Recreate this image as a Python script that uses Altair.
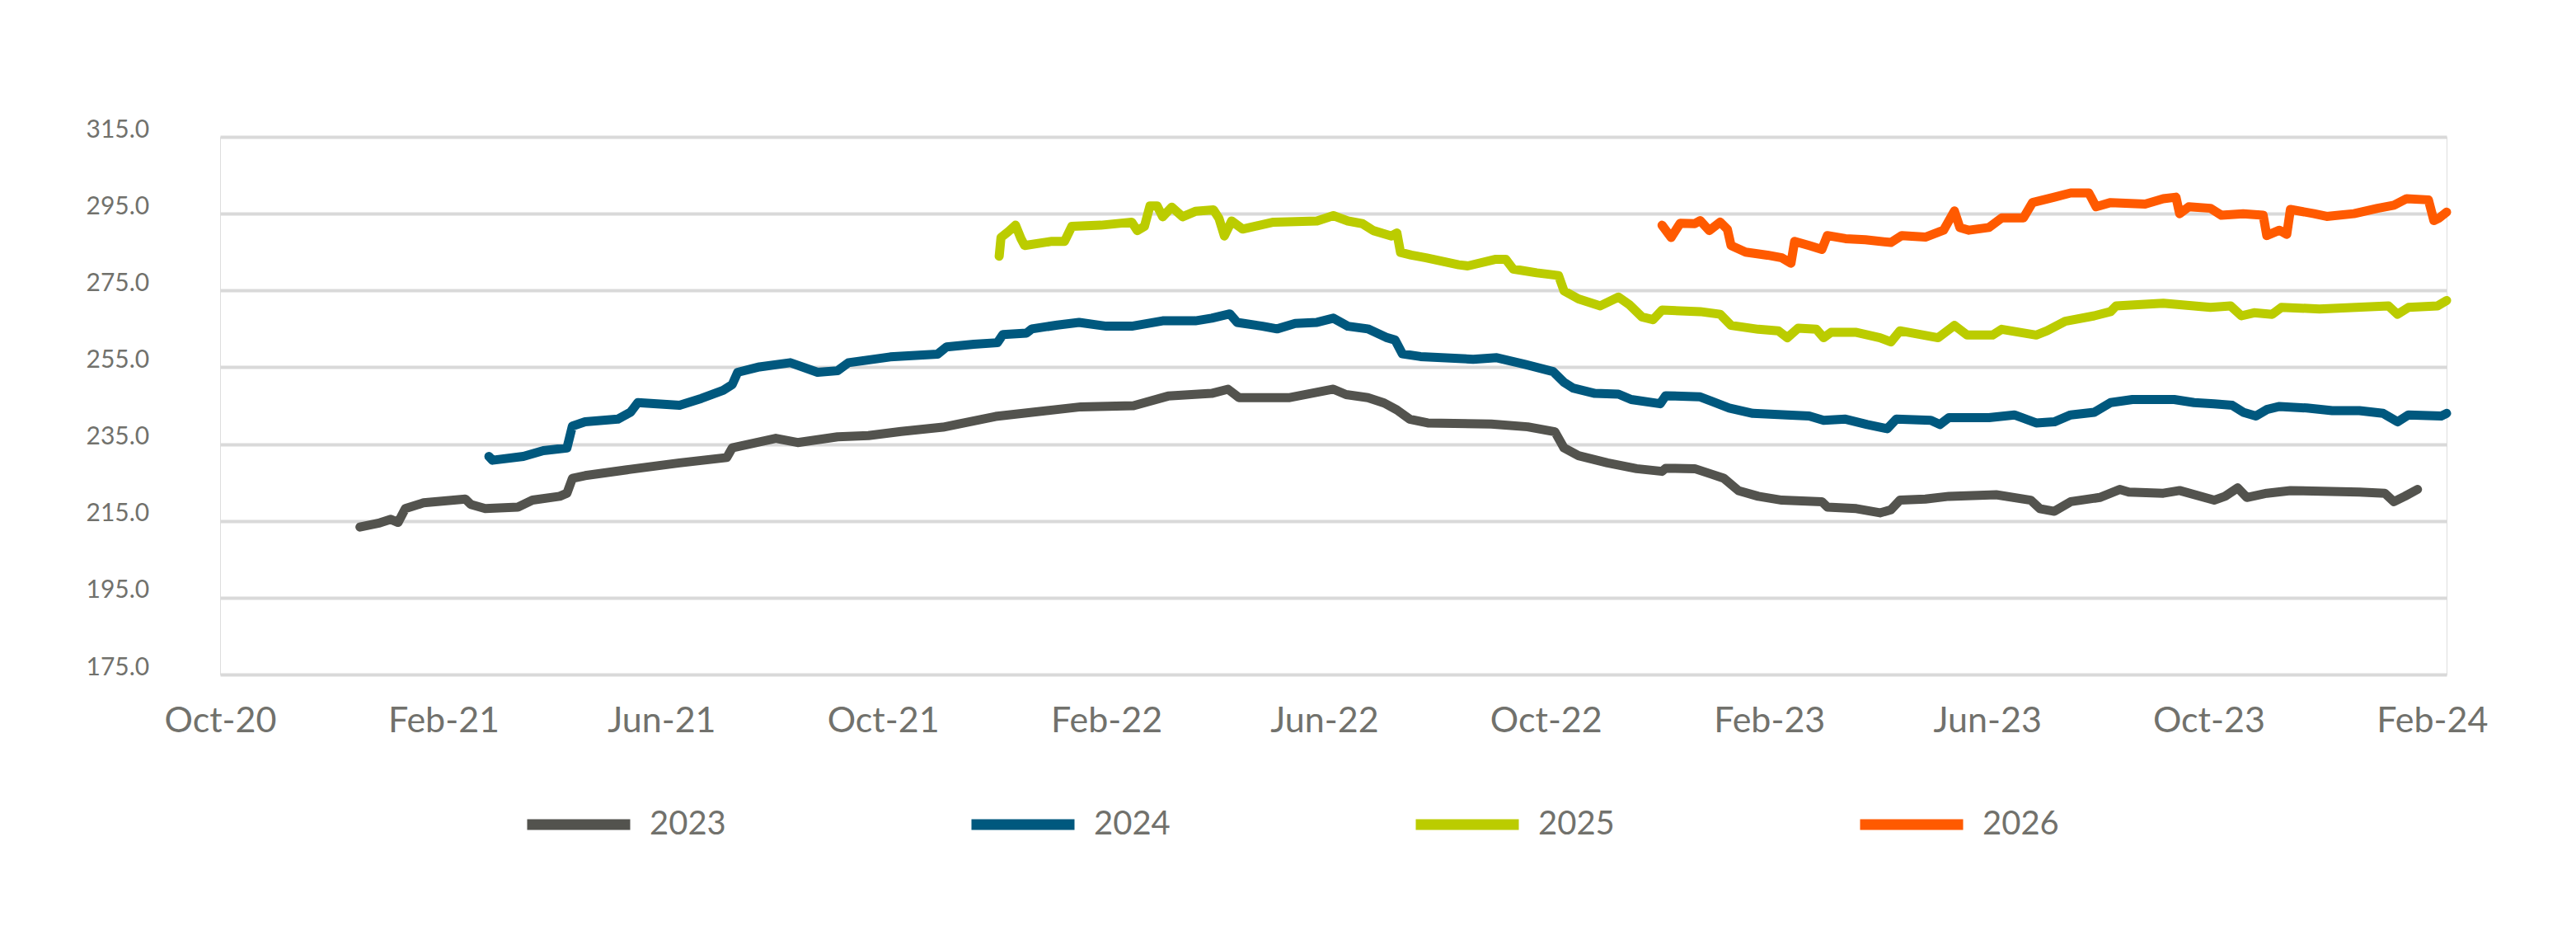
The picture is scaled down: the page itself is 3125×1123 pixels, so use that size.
import altair as alt
import pandas as pd

series_names = ["2023", "2024", "2025", "2026"]
series_colors = ["#53534e", "#00587e", "#bbcc00", "#ff5a00"]

dates_2023 = ["2020-12-17", "2020-12-28", "2021-01-03", "2021-01-07", "2021-01-11", "2021-01-21",
              "2021-02-13", "2021-02-16", "2021-02-24", "2021-03-14", "2021-03-22", "2021-04-06",
              "2021-04-10", "2021-04-13", "2021-04-20", "2021-05-13", "2021-06-11", "2021-07-07",
              "2021-07-10", "2021-08-03", "2021-08-15", "2021-09-06", "2021-09-23", "2021-10-11",
              "2021-11-03", "2021-12-02", "2022-01-18", "2022-02-16", "2022-03-07", "2022-03-31",
              "2022-04-09", "2022-04-15", "2022-05-13", "2022-06-06", "2022-06-13", "2022-06-25",
              "2022-07-04", "2022-07-11", "2022-07-18", "2022-07-28", "2022-09-01", "2022-09-21",
              "2022-10-06", "2022-10-11", "2022-10-19", "2022-11-04", "2022-11-20", "2022-12-04",
              "2022-12-06", "2022-12-22", "2022-12-31", "2023-01-07", "2023-01-15", "2023-01-26",
              "2023-02-08", "2023-03-02", "2023-03-05", "2023-03-21", "2023-04-03", "2023-04-09",
              "2023-04-14", "2023-04-28", "2023-05-11", "2023-06-06", "2023-06-25", "2023-06-30",
              "2023-07-08", "2023-07-17", "2023-08-02", "2023-08-13", "2023-08-18", "2023-09-06",
              "2023-09-15", "2023-10-04", "2023-10-10", "2023-10-17", "2023-10-22", "2023-11-02",
              "2023-11-15", "2023-12-23", "2024-01-06", "2024-01-11", "2024-01-17", "2024-01-24"]
values_2023 = [213.4, 214.5, 215.4, 214.6, 218.2, 219.7,
               220.7, 219.3, 218.2, 218.6, 220.4, 221.4,
               222.2, 226.1, 226.8, 228.3, 230.1, 231.5,
               234.0, 236.5, 235.4, 236.9, 237.2, 238.3,
               239.4, 242.2, 244.7, 245.0, 247.5, 248.2,
               249.3, 247.1, 247.1, 249.3, 247.9, 247.1,
               245.7, 243.9, 241.5, 240.5, 240.2, 239.5,
               238.2, 234.0, 232.0, 230.1, 228.6, 227.9,
               228.7, 228.6, 227.2, 226.1, 222.9, 221.4,
               220.4, 220.0, 218.6, 218.2, 217.1, 217.9,
               220.4, 220.7, 221.4, 221.8, 220.4, 218.2,
               217.5, 220.0, 221.1, 223.2, 222.5, 222.2,
               222.9, 220.4, 221.4, 223.6, 221.1, 222.2,
               222.9, 222.5, 222.2, 220.0, 221.4, 223.2]

dates_2024 = ["2021-02-26", "2021-02-28", "2021-03-17", "2021-03-28", "2021-04-10", "2021-04-13",
              "2021-04-20", "2021-05-08", "2021-05-15", "2021-05-19", "2021-06-11", "2021-06-23",
              "2021-07-05", "2021-07-10", "2021-07-13", "2021-07-25", "2021-08-11", "2021-08-26",
              "2021-09-06", "2021-09-12", "2021-10-05", "2021-10-31", "2021-11-05", "2021-11-20",
              "2021-12-03", "2021-12-06", "2021-12-19", "2021-12-22", "2022-01-05", "2022-01-17",
              "2022-02-01", "2022-02-15", "2022-03-04", "2022-03-22", "2022-03-31", "2022-04-10",
              "2022-04-14", "2022-04-28", "2022-05-06", "2022-05-16", "2022-05-28", "2022-06-06",
              "2022-06-14", "2022-06-25", "2022-07-05", "2022-07-10", "2022-07-14", "2022-07-24",
              "2022-08-22", "2022-09-04", "2022-09-20", "2022-10-05", "2022-10-11", "2022-10-16",
              "2022-10-28", "2022-11-10", "2022-11-17", "2022-12-03", "2022-12-06", "2022-12-25",
              "2022-12-31", "2023-01-10", "2023-01-23", "2023-02-23", "2023-03-03", "2023-03-15",
              "2023-03-27", "2023-04-07", "2023-04-12", "2023-05-01", "2023-05-06", "2023-05-11",
              "2023-06-02", "2023-06-16", "2023-06-28", "2023-07-08", "2023-07-17", "2023-07-30",
              "2023-08-08", "2023-08-20", "2023-09-12", "2023-09-23", "2023-10-04", "2023-10-14",
              "2023-10-20", "2023-10-27", "2023-11-02", "2023-11-09", "2023-11-24", "2023-12-08",
              "2023-12-23", "2024-01-05", "2024-01-13", "2024-01-19", "2024-02-06", "2024-02-09"]
values_2024 = [231.8, 230.8, 231.8, 233.3, 234.0, 239.7,
               240.8, 241.5, 243.3, 245.8, 245.1, 246.9,
               249.0, 250.5, 253.7, 255.1, 256.2, 253.7,
               254.1, 256.2, 257.7, 258.4, 260.3, 261.0,
               261.4, 263.5, 263.9, 265.0, 266.0, 266.7,
               265.7, 265.7, 267.1, 267.1, 267.8, 268.9,
               266.7, 265.7, 265.0, 266.4, 266.7, 267.8,
               265.7, 265.0, 262.8, 262.1, 258.5, 257.8,
               257.1, 257.5, 255.7, 253.9, 251.1, 249.6,
               248.2, 248.0, 246.6, 245.5, 247.6, 247.3,
               246.2, 244.4, 243.0, 242.3, 241.2, 241.5,
               240.1, 239.0, 241.5, 241.2, 240.1, 241.9,
               241.9, 242.6, 240.5, 240.8, 242.6, 243.3,
               245.8, 246.6, 246.6, 245.8, 245.5, 245.1,
               243.3, 242.3, 244.0, 244.8, 244.4, 243.7,
               243.7, 243.0, 240.8, 242.6, 242.3, 243.0]

dates_2025 = ["2021-12-04", "2021-12-05", "2021-12-09", "2021-12-13", "2021-12-16", "2021-12-18",
              "2022-01-02", "2022-01-09", "2022-01-13", "2022-01-29", "2022-02-15", "2022-02-18",
              "2022-02-22", "2022-02-25", "2022-03-01", "2022-03-04", "2022-03-09", "2022-03-15",
              "2022-03-22", "2022-04-01", "2022-04-04", "2022-04-07", "2022-04-11", "2022-04-17",
              "2022-05-04", "2022-05-28", "2022-06-06", "2022-06-14", "2022-06-22", "2022-06-28",
              "2022-07-08", "2022-07-11", "2022-07-13", "2022-07-19", "2022-07-27", "2022-08-14",
              "2022-08-19", "2022-09-03", "2022-09-09", "2022-09-13", "2022-09-26", "2022-10-08",
              "2022-10-11", "2022-10-19", "2022-10-31", "2022-11-10", "2022-11-16", "2022-11-23",
              "2022-11-29", "2022-12-04", "2022-12-25", "2023-01-05", "2023-01-11", "2023-01-26",
              "2023-02-06", "2023-02-11", "2023-02-17", "2023-02-27", "2023-03-03", "2023-03-07",
              "2023-03-21", "2023-04-03", "2023-04-09", "2023-04-14", "2023-05-05", "2023-05-14",
              "2023-05-21", "2023-06-04", "2023-06-09", "2023-06-28", "2023-07-04", "2023-07-14",
              "2023-07-30", "2023-08-08", "2023-08-11", "2023-09-06", "2023-10-02", "2023-10-13",
              "2023-10-19", "2023-10-26", "2023-11-05", "2023-11-10", "2023-12-01", "2024-01-08",
              "2024-01-13", "2024-01-19", "2024-02-04", "2024-02-09"]
values_2025 = [283.9, 288.8, 290.3, 292.0, 288.5, 286.7,
               287.8, 287.8, 291.7, 292.0, 292.8, 290.6,
               291.7, 297.0, 297.0, 294.2, 296.7, 294.2,
               295.6, 296.0, 293.8, 289.2, 293.1, 291.0,
               292.8, 293.1, 294.5, 293.1, 292.4, 290.6,
               289.2, 290.0, 284.9, 284.2, 283.5, 281.7,
               281.4, 283.1, 283.1, 280.6, 279.6, 278.9,
               274.9, 272.8, 271.0, 273.3, 271.3, 268.1,
               267.4, 269.9, 269.5, 268.8, 265.9, 264.9,
               264.5, 262.7, 265.2, 264.9, 262.7, 264.1,
               264.1, 262.7, 261.6, 264.5, 262.7, 265.9,
               263.4, 263.4, 264.9, 263.4, 264.5, 267.0,
               268.4, 269.5, 271.0, 271.7, 270.6, 271.0,
               268.4, 269.2, 268.8, 270.6, 270.2, 271.0,
               268.8, 270.6, 271.0, 272.4]

dates_2026 = ["2022-12-04", "2022-12-09", "2022-12-14", "2022-12-22", "2022-12-25", "2022-12-30",
              "2023-01-05", "2023-01-09", "2023-01-11", "2023-01-19", "2023-01-31", "2023-02-08",
              "2023-02-13", "2023-02-15", "2023-02-23", "2023-03-02", "2023-03-05", "2023-03-15",
              "2023-03-26", "2023-04-09", "2023-04-15", "2023-04-28", "2023-05-08", "2023-05-14",
              "2023-05-17", "2023-05-22", "2023-06-02", "2023-06-09", "2023-06-21", "2023-06-26",
              "2023-07-08", "2023-07-17", "2023-07-27", "2023-07-31", "2023-08-08", "2023-08-27",
              "2023-09-06", "2023-09-13", "2023-09-15", "2023-09-20", "2023-10-02", "2023-10-08",
              "2023-10-20", "2023-10-31", "2023-11-02", "2023-11-09", "2023-11-13", "2023-11-15",
              "2023-11-28", "2023-12-05", "2023-12-20", "2024-01-02", "2024-01-11", "2024-01-18",
              "2024-01-30", "2024-02-02", "2024-02-05", "2024-02-09"]
values_2026 = [292.0, 288.8, 292.5, 292.4, 293.2, 290.6,
               292.8, 290.9, 286.7, 285.0, 284.2, 283.5,
               282.1, 287.8, 286.7, 285.7, 289.3, 288.5,
               288.2, 287.5, 289.3, 288.9, 290.7, 295.7,
               291.4, 290.7, 291.4, 293.9, 293.9, 297.9,
               299.3, 300.4, 300.4, 296.8, 297.9, 297.5,
               298.9, 299.3, 295.0, 296.8, 296.4, 294.6,
               295.0, 294.6, 289.3, 290.7, 289.6, 296.1,
               295.0, 294.3, 295.0, 296.4, 297.2, 298.9,
               298.6, 293.2, 293.9, 295.4]

y_ticks = [175, 195, 215, 235, 255, 275, 295, 315]
x_tick_months = [(2020, 10), (2021, 2), (2021, 6), (2021, 10), (2022, 2), (2022, 6),
                 (2022, 10), (2023, 2), (2023, 6), (2023, 10), (2024, 2)]

frames = []
for name, ds, vs in [("2023", dates_2023, values_2023), ("2024", dates_2024, values_2024),
                     ("2025", dates_2025, values_2025), ("2026", dates_2026, values_2026)]:
    frames.append(pd.DataFrame({"date": [d + "T00:00:00" for d in ds], "value": vs, "series": name}))
df = pd.concat(frames, ignore_index=True)

text_color = "#71716c"
font = "Lato"

chart = alt.Chart(df).mark_line(strokeWidth=11, strokeCap="round", strokeJoin="round").encode(
    x=alt.X("date:T",
            scale=alt.Scale(domain=[alt.DateTime(year=2020, month=10, date=1),
                                    alt.DateTime(year=2024, month=2, date=9)]),
            axis=alt.Axis(values=[alt.DateTime(year=y, month=m, date=1) for y, m in x_tick_months],
                          format="%b-%y", title=None, grid=False, domain=False, ticks=False,
                          tickSize=0, labelPadding=35, labelFontSize=43, labelFont=font,
                          labelColor=text_color, labelFlush=False, labelOverlap=False,
                          labelBaseline="top")),
    y=alt.Y("value:Q",
            scale=alt.Scale(domain=[175, 315], nice=False, zero=False),
            axis=alt.Axis(values=y_ticks, format=".1f", title=None, grid=True,
                          gridColor="#d9d9d9", gridWidth=4, domain=False, ticks=False,
                          tickSize=0, labelAlign="left", labelPadding=163, labelOffset=-9,
                          labelBaseline="middle", labelFontSize=30, labelFont=font,
                          labelColor=text_color, labelOverlap=False)),
    color=alt.Color("series:N",
                    scale=alt.Scale(domain=series_names, range=series_colors),
                    legend=alt.Legend(orient="none", legendX=366, legendY=765,
                                      direction="horizontal", columns=4, title=None,
                                      symbolType="stroke", symbolSize=15625,
                                      symbolStrokeWidth=13, labelFontSize=40,
                                      labelFont=font, labelColor=text_color,
                                      labelOffset=17, columnPadding=271, padding=0)),
).properties(
    width=2701,
    height=652,
    autosize=alt.AutoSizeParams(type="none"),
    padding={"left": 259, "top": 158, "right": 140, "bottom": 280},
).configure_view(stroke=None).configure(background="white")

chart.save("out.html", embed_options={"renderer": "svg", "actions": False})
